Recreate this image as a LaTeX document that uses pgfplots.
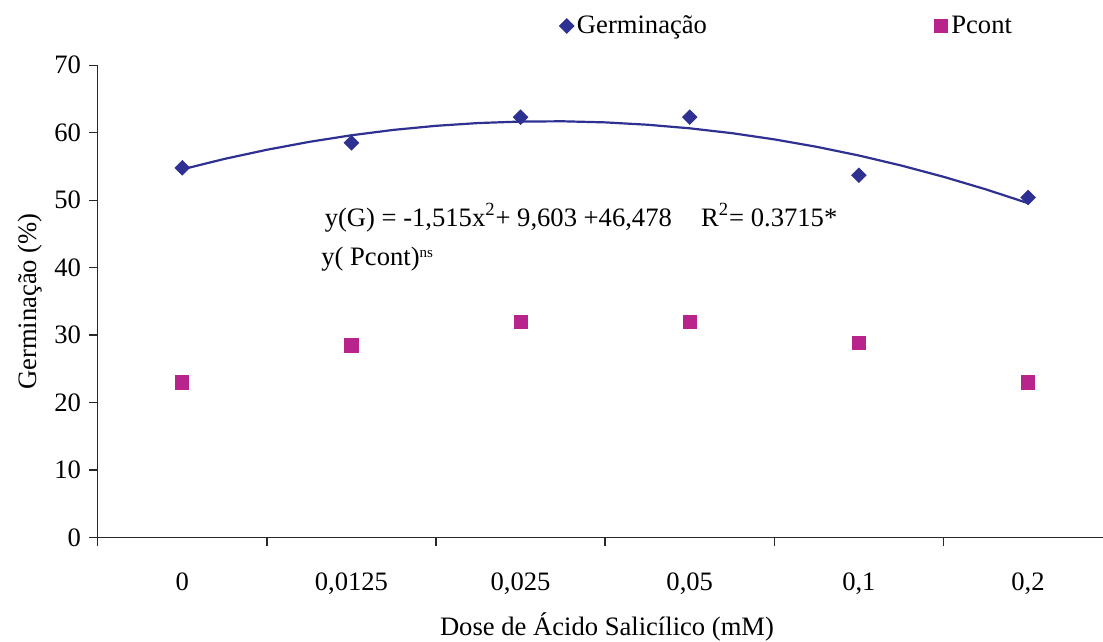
\documentclass[border=0pt]{standalone}
\usepackage{fontspec}
\setmainfont{Liberation Serif}
\usepackage{pgfplots}
\pgfplotsset{compat=1.18}
\definecolor{gblue}{RGB}{46,49,146}
\definecolor{pmag}{RGB}{185,35,140}
\definecolor{axgray}{RGB}{40,40,40}
\begin{document}
\begin{tikzpicture}[font=\fontsize{13.3}{16}\selectfont]
\useasboundingbox (-48.85pt,-52.15pt) rectangle (502.65pt,268.85pt);
\begin{axis}[
  scale only axis, width=502.65pt, height=236.25pt,
  xmin=-0.5, xmax=5.443, ymin=0, ymax=70,
  axis x line*=bottom, axis y line*=left,
  axis line style={axgray, line width=0.7pt},
  tick style={axgray, line width=0.7pt},
  tick align=outside, major tick length=4.3pt,
  ytick={0,10,...,70},
  xtick={-0.5,0.5,1.5,2.5,3.5,4.5},
  xticklabels={},
  extra x ticks={0,1,2,3,4,5},
  extra x tick labels={0,{0,0125},{0,025},{0,05},{0,1},{0,2}},
  extra x tick style={major tick length=0pt, xticklabel style={yshift=-14pt}},
  /pgf/number format/assume math mode=true,
  yticklabel style={xshift=-0.5pt},
  xlabel={Dose de Ácido Salicílico (mM)},
  ylabel={Germinação (\%)},
  xlabel style={at={(axis description cs:0.5066,-0.189)}, anchor=center},
  ylabel style={at={(axis description cs:-0.0673,0.5)}, anchor=center},
  legend columns=2,
  legend style={draw=none, fill=none, at={(axis description cs:0.453,1.083)}, anchor=west,
    /tikz/every even column/.append style={column sep=112pt},
    nodes={inner sep=1.5pt}},
  legend image code/.code={\draw[#1] plot coordinates {(0pt,0pt)};},
  clip=false,
]
\addplot[only marks, mark=square*, mark size=2.56pt, color=gblue,
  mark options={rotate=45, fill=gblue, draw=gblue}]
  coordinates {(0,54.8) (1,58.5) (2,62.3) (3,62.3) (4,53.7) (5,50.4)};
\addlegendentry{Germinação}
\addplot[only marks, mark=square*, mark size=3.3pt, color=pmag,
  mark options={fill=pmag, draw=pmag}]
  coordinates {(0,23.0) (1,28.5) (2,32.0) (3,32.0) (4,28.8) (5,23.0)};
\addlegendentry{\hspace{0.6pt}Pcont}
\addplot[gblue, line width=1.1pt, forget plot]
  coordinates {(0,54.57) (0.25,56.12) (0.5,57.47) (0.75,58.64) (1,59.62)
  (1.25,60.42) (1.5,61.02) (1.75,61.43) (2,61.65) (2.25,61.69) (2.5,61.53)
  (2.75,61.18) (3,60.65) (3.25,59.93) (3.5,59.01) (3.75,57.91) (4,56.62)
  (4.25,55.14) (4.5,53.47) (4.75,51.61) (5,49.56)};
\node[anchor=west, inner sep=0pt] at (axis cs:0.84,47.4)
  {y(G) = -1,515x\textsuperscript{2}+ 9,603 +46,478\hspace{1.1em}R\textsuperscript{2}= 0.3715*};
\node[anchor=west, inner sep=0pt] at (axis cs:0.82,41.2)
  {y( Pcont)\raisebox{0.7ex}{\fontsize{7.5}{8}\selectfont ns}};
\end{axis}
\end{tikzpicture}
\end{document}
